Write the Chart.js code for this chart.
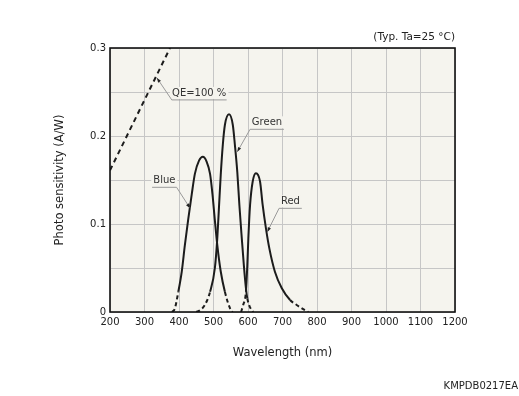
<!DOCTYPE html>
<html>
<head>
<meta charset="utf-8">
<script src="https://cdn.jsdelivr.net/npm/chart.js@4"></script>
<style>
  html, body { margin: 0; padding: 0; background: #fff; }
</style>
</head>
<body>
<canvas id="sensitivityChart" width="519" height="396"></canvas>
<script>
// Spectral response of the RGB photodiode
const wavelengthTicks = [200, 300, 400, 500, 600, 700, 800, 900, 1000, 1100, 1200];
const sensitivityTicks = [0, 0.05, 0.1, 0.15, 0.2, 0.25, 0.3];
const sensitivityLabels = ['0', '', '0.1', '', '0.2', '', '0.3'];

const qeNm = [200, 374];
const qeSens = [0.161, 0.3];

const blueNm = [380, 388, 398, 408, 417, 427, 437, 446, 458, 469, 480, 490, 497, 504, 511, 521, 533, 548, 555];
const blueSens = [0, 0.004, 0.023, 0.046, 0.076, 0.106, 0.134, 0.157, 0.172, 0.1765, 0.171, 0.157, 0.134, 0.104, 0.076, 0.046, 0.023, 0.004, 0];

const greenNm = [450, 461, 475, 490, 504, 511, 516, 521, 527, 533, 545, 556, 562, 569, 575, 582, 588, 594, 598, 604, 611, 615];
const greenSens = [0, 0.002, 0.008, 0.023, 0.05, 0.084, 0.12, 0.156, 0.19, 0.2125, 0.2246, 0.2125, 0.19, 0.159, 0.1216, 0.0837, 0.053, 0.027, 0.0155, 0.007, 0.002, 0];

const redNm = [580, 586, 594, 598, 601, 606, 613.5, 623, 635, 642.5, 652, 662, 678, 698, 722, 741, 765, 775];
const redSens = [0, 0.008, 0.023, 0.053, 0.0837, 0.1216, 0.148, 0.1576, 0.148, 0.1216, 0.095, 0.072, 0.0458, 0.027, 0.0136, 0.008, 0.002, 0];

// callout labels: arrow tip on the curve, elbow, end of the underline
const callouts = [
  { text: 'QE=100 %', tip: [336, 0.266], elbow: [379, 0.241], end: 538 },
  { text: 'Green', tip: [569, 0.182], elbow: [606, 0.2076], end: 704 },
  { text: 'Blue', tip: [432, 0.118], elbow: [393, 0.1417], end: 322 },
  { text: 'Red', tip: [656, 0.091], elbow: [690, 0.1178], end: 756 }
];

const FONT = '"DejaVu Sans", Verdana, sans-serif';
const PLOT_BG = '#f5f4ee';
const LINE = '#1c1c1c';

Chart.defaults.font.family = FONT;
Chart.defaults.color = '#222';

function toPoints(xs, ys) {
  return xs.map((x, i) => ({ x: x, y: ys[i] }));
}

function curve(xs, ys) {
  return {
    data: toPoints(xs, ys),
    showLine: true,
    pointRadius: 0,
    borderColor: LINE,
    borderWidth: 2,
    cubicInterpolationMode: 'monotone',
    segment: {
      // tails near zero are drawn dashed
      borderDash: ctx => (ctx.p0.parsed.y < 0.012 || ctx.p1.parsed.y < 0.012) ? [4, 3] : undefined
    }
  };
}

const frame = {
  id: 'frame',
  beforeDraw(chart) {
    const a = chart.chartArea, c = chart.ctx;
    c.save();
    c.fillStyle = PLOT_BG;
    c.fillRect(a.left, a.top, a.right - a.left, a.bottom - a.top);
    c.restore();
  },
  afterDraw(chart) {
    const a = chart.chartArea, c = chart.ctx;
    c.save();
    c.strokeStyle = '#111';
    c.lineWidth = 1.6;
    c.strokeRect(a.left, a.top, a.right - a.left, a.bottom - a.top);
    c.font = '10px ' + FONT;
    c.fillStyle = '#222';
    c.textAlign = 'right';
    c.textBaseline = 'middle';
    c.fillText('KMPDB0217EA', 518, 386);
    c.restore();
  }
};

const labels = {
  id: 'labels',
  afterDatasetsDraw(chart) {
    const x = chart.scales.x, y = chart.scales.y, c = chart.ctx;
    c.save();
    c.font = '10px ' + FONT;
    c.textAlign = 'center';
    c.textBaseline = 'middle';
    callouts.forEach(o => {
      const tx = x.getPixelForValue(o.tip[0]), ty = y.getPixelForValue(o.tip[1]);
      const ex = x.getPixelForValue(o.elbow[0]), ey = y.getPixelForValue(o.elbow[1]);
      const ux = x.getPixelForValue(o.end);
      const cx = (ex + ux) / 2;
      const w = c.measureText(o.text).width;
      c.fillStyle = PLOT_BG;
      c.fillRect(cx - w / 2 - 2, ey - 13, w + 4, 12);
      c.strokeStyle = '#9a9a9a';
      c.lineWidth = 1;
      c.beginPath();
      c.moveTo(tx, ty);
      c.lineTo(ex, ey);
      c.lineTo(ux, ey);
      c.stroke();
      // small arrow head at the curve
      const ang = Math.atan2(ty - ey, tx - ex);
      c.fillStyle = '#222';
      c.beginPath();
      c.moveTo(tx, ty);
      c.lineTo(tx - 5 * Math.cos(ang - 0.35), ty - 5 * Math.sin(ang - 0.35));
      c.lineTo(tx - 5 * Math.cos(ang + 0.35), ty - 5 * Math.sin(ang + 0.35));
      c.closePath();
      c.fill();
      c.fillStyle = '#333';
      c.fillText(o.text, cx, ey - 6.5);
    });
    c.restore();
  }
};

new Chart(document.getElementById('sensitivityChart'), {
  type: 'scatter',
  data: {
    datasets: [
      Object.assign(curve(qeNm, qeSens), { borderDash: [5, 4], segment: {} }),
      curve(blueNm, blueSens),
      curve(greenNm, greenSens),
      curve(redNm, redSens)
    ]
  },
  options: {
    responsive: false,
    animation: false,
    layout: { padding: { top: 0, right: 64, left: 0, bottom: 0 } },
    plugins: {
      legend: { display: false },
      tooltip: { enabled: false },
      title: {
        display: true,
        text: '(Typ. Ta=25 °C)',
        align: 'end',
        color: '#222',
        font: { size: 10.5, weight: 'normal' },
        padding: { top: 30.7, bottom: 4.7 }
      }
    },
    scales: {
      x: {
        type: 'linear',
        min: 200,
        max: 1200,
        afterFit: s => { s.height = 84; },
        afterBuildTicks: s => { s.ticks = wavelengthTicks.map(v => ({ value: v })); },
        ticks: {
          padding: 4,
          font: { size: 10 },
          color: '#222',
          maxRotation: 0,
          callback: v => String(v)
        },
        grid: { color: '#c6c6c6', drawTicks: false },
        border: { display: false },
        title: {
          display: true,
          text: 'Wavelength (nm)',
          color: '#222',
          font: { size: 11.5 },
          padding: { top: 0, bottom: 36 }
        }
      },
      y: {
        min: 0,
        max: 0.3,
        afterFit: s => { s.width = 110; },
        afterBuildTicks: s => { s.ticks = sensitivityTicks.map(v => ({ value: v })); },
        ticks: {
          padding: 4,
          font: { size: 10 },
          color: '#222',
          callback: (v, i) => sensitivityLabels[i]
        },
        grid: { color: '#c6c6c6', drawTicks: false },
        border: { display: false },
        title: {
          display: true,
          text: 'Photo sensitivity (A/W)',
          color: '#222',
          font: { size: 11.5 },
          padding: { top: 53, bottom: 0 }
        }
      }
    }
  },
  plugins: [frame, labels]
});
</script>
</body>
</html>
